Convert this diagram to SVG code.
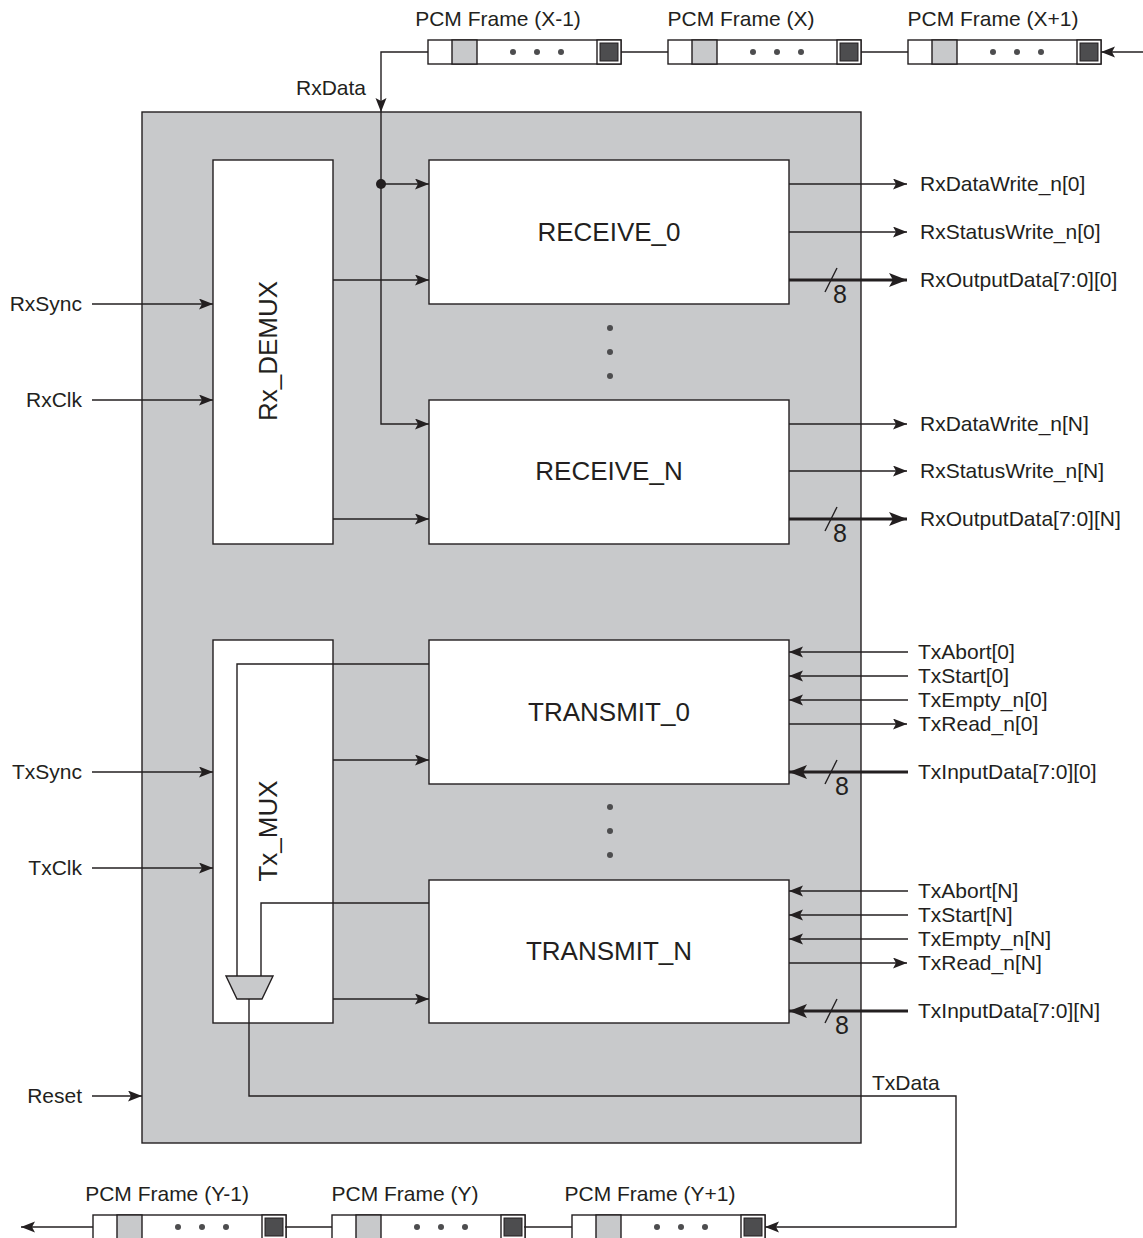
<svg xmlns="http://www.w3.org/2000/svg" xmlns:xlink="http://www.w3.org/1999/xlink" width="1143" height="1238" viewBox="0 0 1143 1238">
<style>
.ln{fill:none;stroke:#231f20;stroke-width:1.4}
.bus{fill:none;stroke:#231f20;stroke-width:3}
.blk{fill:#fff;stroke:#231f20;stroke-width:1.4}
.t{font-family:"Liberation Sans",Arial,sans-serif;font-size:21px;fill:#231f20}
.n8{font-family:"Liberation Sans",Arial,sans-serif;font-size:25px;fill:#231f20;text-anchor:middle}
.tb{font-family:"Liberation Sans",Arial,sans-serif;font-size:26px;fill:#231f20;text-anchor:middle}
.dot{fill:#4d4d4f}
</style>
<defs>
<marker id="ah" markerUnits="userSpaceOnUse" markerWidth="15" markerHeight="12" refX="14" refY="5.5" orient="auto"><path d="M0,0 L14,5.5 L0,11 L3,5.5 z" fill="#231f20"/></marker>
<marker id="ahb" markerUnits="userSpaceOnUse" markerWidth="19" markerHeight="15" refX="18" refY="7" orient="auto"><path d="M0,0 L18,7 L0,14 L4,7 z" fill="#231f20"/></marker>
<g id="frame">
<rect x="0" y="0" width="193" height="24" class="blk"/>
<rect x="24" y="0" width="25" height="24" fill="#c8c9cb" stroke="#231f20" stroke-width="1.4"/>
<rect x="169" y="0" width="24" height="24" class="blk"/>
<rect x="172" y="3" width="18" height="18" fill="#4d4d4f" stroke="#231f20" stroke-width="1"/>
<circle cx="85" cy="12" r="3" class="dot"/>
<circle cx="109" cy="12" r="3" class="dot"/>
<circle cx="133" cy="12" r="3" class="dot"/>
</g>
</defs>
<rect width="1143" height="1238" fill="#fff"/>
<g id="top_module">
<rect x="142" y="112" width="719" height="1031" fill="#c8c9cb" stroke="#231f20" stroke-width="1.4"/>
</g>
<g id="rx_demux">
<rect x="213" y="160" width="120" height="384" class="blk"/>
<text class="tb" transform="translate(277,351) rotate(-90)">Rx_DEMUX</text>
</g>
<g id="tx_mux">
<rect x="213" y="640" width="120" height="383" class="blk"/>
<text class="tb" transform="translate(277,831) rotate(-90)">Tx_MUX</text>
<path d="M226,976 L273,976 L262,999 L237,999 Z" fill="#c8c9cb" stroke="#231f20" stroke-width="1.4"/>
</g>
<g id="receive_0">
<rect x="429" y="160" width="360" height="144" class="blk"/>
<text class="tb" x="609" y="241">RECEIVE_0</text>
</g>
<g id="receive_n">
<rect x="429" y="400" width="360" height="144" class="blk"/>
<text class="tb" x="609" y="480">RECEIVE_N</text>
</g>
<g id="transmit_0">
<rect x="429" y="640" width="360" height="144" class="blk"/>
<text class="tb" x="609" y="721">TRANSMIT_0</text>
</g>
<g id="transmit_n">
<rect x="429" y="880" width="360" height="143" class="blk"/>
<text class="tb" x="609" y="960">TRANSMIT_N</text>
</g>
<g id="ellipsis">
<circle cx="610" cy="328" r="3" class="dot"/><circle cx="610" cy="352" r="3" class="dot"/><circle cx="610" cy="376" r="3" class="dot"/>
<circle cx="610" cy="807" r="3" class="dot"/><circle cx="610" cy="831" r="3" class="dot"/><circle cx="610" cy="855" r="3" class="dot"/>
</g>
<g id="frames_rx">
<g id="frame_x_m1"><use xlink:href="#frame" href="#frame" x="428" y="40"/><text class="t" x="498" y="26" text-anchor="middle">PCM Frame (X-1)</text></g>
<g id="frame_x"><use xlink:href="#frame" href="#frame" x="668" y="40"/><text class="t" x="741" y="26" text-anchor="middle">PCM Frame (X)</text></g>
<g id="frame_x_p1"><use xlink:href="#frame" href="#frame" x="908" y="40"/><text class="t" x="993" y="26" text-anchor="middle">PCM Frame (X+1)</text></g>
</g>
<g id="frames_tx">
<g id="frame_y_m1"><use xlink:href="#frame" href="#frame" x="93" y="1215"/><text class="t" x="167" y="1201" text-anchor="middle">PCM Frame (Y-1)</text></g>
<g id="frame_y"><use xlink:href="#frame" href="#frame" x="332" y="1215"/><text class="t" x="405" y="1201" text-anchor="middle">PCM Frame (Y)</text></g>
<g id="frame_y_p1"><use xlink:href="#frame" href="#frame" x="572" y="1215"/><text class="t" x="650" y="1201" text-anchor="middle">PCM Frame (Y+1)</text></g>
</g>
<g id="connectors">
<path class="ln" d="M1143,52 L1101,52" marker-end="url(#ah)"/>
<path class="ln" d="M908,52 L861,52"/>
<path class="ln" d="M668,52 L621,52"/>
<path class="ln" d="M428,52 L381,52 L381,112" marker-end="url(#ah)"/>
<path class="ln" d="M381,112 L381,424 L429,424" marker-end="url(#ah)"/>
<path class="ln" d="M381,184 L429,184" marker-end="url(#ah)"/>
<circle cx="381" cy="184" r="5" fill="#231f20"/>
<text class="t" x="366" y="95" text-anchor="end">RxData</text>
<path class="ln" d="M333,280 L429,280" marker-end="url(#ah)"/>
<path class="ln" d="M333,519 L429,519" marker-end="url(#ah)"/>
<path class="ln" d="M333,760 L429,760" marker-end="url(#ah)"/>
<path class="ln" d="M333,999 L429,999" marker-end="url(#ah)"/>
<path class="ln" d="M429,664 L237,664 L237,976"/>
<path class="ln" d="M429,903 L261,903 L261,976"/>
<path class="ln" d="M249,999 L249,1096 L956,1096 L956,1227 L765,1227" marker-end="url(#ah)"/>
<text class="t" x="872" y="1090">TxData</text>
<path class="ln" d="M572,1227 L524,1227"/>
<path class="ln" d="M332,1227 L285,1227"/>
<path class="ln" d="M93,1227 L21,1227" marker-end="url(#ah)"/>
<path class="ln" d="M92,304 L213,304" marker-end="url(#ah)"/>
<text class="t" x="82" y="311" text-anchor="end">RxSync</text>
<path class="ln" d="M92,400 L213,400" marker-end="url(#ah)"/>
<text class="t" x="82" y="407" text-anchor="end">RxClk</text>
<path class="ln" d="M92,772 L213,772" marker-end="url(#ah)"/>
<text class="t" x="82" y="779" text-anchor="end">TxSync</text>
<path class="ln" d="M92,868 L213,868" marker-end="url(#ah)"/>
<text class="t" x="82" y="875" text-anchor="end">TxClk</text>
<path class="ln" d="M92,1096 L142,1096" marker-end="url(#ah)"/>
<text class="t" x="82" y="1103" text-anchor="end">Reset</text>
<path class="ln" d="M789,184 L907,184" marker-end="url(#ah)"/>
<text class="t" x="920" y="191">RxDataWrite_n[0]</text>
<path class="ln" d="M789,232 L907,232" marker-end="url(#ah)"/>
<text class="t" x="920" y="239">RxStatusWrite_n[0]</text>
<path class="bus" d="M789,280 L907,280" marker-end="url(#ahb)"/>
<path class="ln" d="M825,292 L837,268"/>
<text class="n8" x="840" y="303">8</text>
<text class="t" x="920" y="287">RxOutputData[7:0][0]</text>
<path class="ln" d="M789,424 L907,424" marker-end="url(#ah)"/>
<text class="t" x="920" y="431">RxDataWrite_n[N]</text>
<path class="ln" d="M789,471 L907,471" marker-end="url(#ah)"/>
<text class="t" x="920" y="478">RxStatusWrite_n[N]</text>
<path class="bus" d="M789,519 L907,519" marker-end="url(#ahb)"/>
<path class="ln" d="M825,531 L837,507"/>
<text class="n8" x="840" y="542">8</text>
<text class="t" x="920" y="526">RxOutputData[7:0][N]</text>
<path class="ln" d="M908,652 L789,652" marker-end="url(#ah)"/>
<text class="t" x="918" y="659">TxAbort[0]</text>
<path class="ln" d="M908,676 L789,676" marker-end="url(#ah)"/>
<text class="t" x="918" y="683">TxStart[0]</text>
<path class="ln" d="M908,700 L789,700" marker-end="url(#ah)"/>
<text class="t" x="918" y="707">TxEmpty_n[0]</text>
<path class="ln" d="M789,724 L907,724" marker-end="url(#ah)"/>
<text class="t" x="918" y="731">TxRead_n[0]</text>
<path class="bus" d="M908,772 L789,772" marker-end="url(#ahb)"/>
<path class="ln" d="M825,784 L837,760"/>
<text class="n8" x="842" y="795">8</text>
<text class="t" x="918" y="779">TxInputData[7:0][0]</text>
<path class="ln" d="M908,891 L789,891" marker-end="url(#ah)"/>
<text class="t" x="918" y="898">TxAbort[N]</text>
<path class="ln" d="M908,915 L789,915" marker-end="url(#ah)"/>
<text class="t" x="918" y="922">TxStart[N]</text>
<path class="ln" d="M908,939 L789,939" marker-end="url(#ah)"/>
<text class="t" x="918" y="946">TxEmpty_n[N]</text>
<path class="ln" d="M789,963 L907,963" marker-end="url(#ah)"/>
<text class="t" x="918" y="970">TxRead_n[N]</text>
<path class="bus" d="M908,1011 L789,1011" marker-end="url(#ahb)"/>
<path class="ln" d="M825,1023 L837,999"/>
<text class="n8" x="842" y="1034">8</text>
<text class="t" x="918" y="1018">TxInputData[7:0][N]</text>
</g>
</svg>
